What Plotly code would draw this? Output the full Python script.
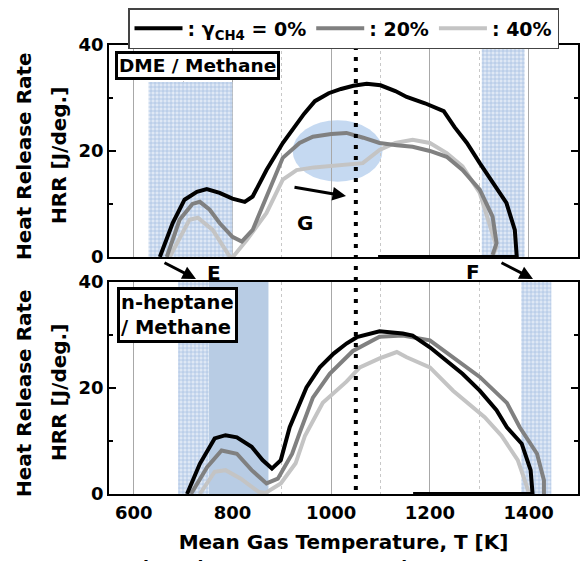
import plotly.graph_objects as go

# ---------------- data ----------------
# DME / Methane panel (top)
top_T_0 = [653, 679, 703, 728, 748, 774, 800, 825, 841, 869, 902, 922, 945, 967, 995, 1020, 1045, 1072, 1100, 1130, 1153, 1190, 1228, 1250, 1275, 1301, 1330, 1355, 1372, 1376, 1376, 1300, 1200, 1095]
top_H_0 = [0, 6.4, 10.8, 12.3, 12.8, 12.1, 11.0, 10.4, 11.4, 16.4, 21.5, 24.0, 27.0, 29.4, 30.9, 31.7, 32.3, 32.7, 32.4, 31.3, 30.2, 29.0, 27.5, 24.5, 21.5, 17.7, 13.5, 10.2, 5.1, 1.0, 0, 0, 0, 0]
top_T_20 = [667, 693, 719, 734, 754, 774, 800, 819, 841, 869, 902, 936, 963, 1000, 1031, 1065, 1098, 1133, 1165, 1200, 1234, 1266, 1301, 1327, 1335, 1327]
top_H_20 = [0, 7.0, 10.0, 10.4, 8.9, 6.4, 3.8, 2.9, 5.1, 11.4, 18.7, 21.5, 22.7, 23.2, 23.4, 22.5, 21.5, 21.1, 20.8, 20.0, 18.9, 16.4, 12.7, 7.6, 2.6, 0.4]
top_T_40 = [673, 713, 730, 760, 795, 801, 829, 869, 902, 930, 965, 997, 1030, 1064, 1098, 1130, 1165, 1200, 1234, 1266, 1301, 1321, 1335, 1327]
top_H_40 = [0, 7.0, 7.4, 5.1, 0, 0, 3.2, 8.3, 14.6, 16.4, 16.9, 17.1, 17.4, 17.7, 20.2, 21.5, 22.1, 21.5, 19.6, 17.1, 12.1, 6.4, 1.9, 0.2]

# n-heptane / Methane panel (bottom)
bot_T_0 = [708, 734, 764, 786, 809, 839, 861, 880, 898, 916, 950, 977, 1005, 1031, 1052, 1098, 1145, 1165, 1200, 1234, 1266, 1301, 1335, 1356, 1386, 1404, 1408, 1408, 1300, 1166]
bot_H_0 = [0, 5.7, 10.5, 11.1, 10.7, 8.9, 6.4, 4.8, 6.4, 12.6, 20.1, 23.9, 26.5, 28.4, 29.6, 30.7, 30.3, 29.9, 27.7, 25.2, 22.7, 19.5, 15.8, 12.6, 9.5, 4.5, 0.7, 0, 0, 0]
bot_T_20 = [716, 749, 778, 809, 839, 869, 892, 921, 936, 963, 997, 1044, 1098, 1145, 1200, 1247, 1301, 1356, 1382, 1417, 1431, 1431]
bot_H_20 = [0, 5.1, 8.2, 7.6, 4.5, 2.0, 2.9, 7.6, 11.5, 18.2, 22.7, 27.0, 29.7, 29.9, 29.0, 25.8, 22.1, 17.2, 12.6, 7.6, 2.6, 0]
bot_T_40 = [734, 764, 786, 817, 853, 867, 898, 928, 947, 983, 1031, 1058, 1098, 1133, 1153, 1200, 1247, 1311, 1345, 1378, 1392, 1400]
bot_H_40 = [0, 4.2, 4.5, 2.9, 0.4, 0.2, 2.0, 5.8, 11.0, 17.2, 21.2, 23.9, 25.6, 26.8, 25.8, 23.9, 19.5, 14.5, 11.0, 6.4, 2.6, 0.3]

series_names = [": \u03b3<sub>CH4</sub> = 0%", ": 20%", ": 40%"]
series_colors = ["#000000", "#808080", "#c4c4c4"]

# highlighted regions: (T_start, T_end, HRR_low, HRR_high)
top_regions = [(630, 680, 0, 33), (680, 800, 0, 33), (1305, 1392, 0, 39.6)]
bot_regions_pattern = [(690, 752, 0, 40), (1385, 1446, 0, 40)]
bot_regions_solid = [(752, 873, 0, 40)]
ellipse_G = (922, 1104, 14.2, 25.8)
marker_T = 1050

x_ticks = [600, 800, 1000, 1200, 1400]
y_ticks = [0, 20, 40]

# ---------------- figure ----------------
W, H = 581, 561
ML, MR, MT, MB = 109, 3, 45, 67
PW, PH = W - ML - MR, H - MT - MB


def px(x):
    return (x - ML) / PW


def py(y):
    return (H - MB - y) / PH


FONT = "DejaVu Sans, Verdana, sans-serif"
fig = go.Figure()

pat = dict(shape="+", fgcolor="#6f97d0", bgcolor="#dfe8f5", size=4, solidity=0.35)


def rect_trace(r, xa, ya, pattern=True):
    x0, x1, y0, y1 = r
    kw = dict(x=[x0, x1, x1, x0, x0], y=[y0, y0, y1, y1, y0], mode="lines",
              line=dict(width=0), fill="toself", hoverinfo="skip",
              showlegend=False, xaxis=xa, yaxis=ya)
    if pattern:
        kw["fillpattern"] = pat
        kw["fillcolor"] = "#dfe8f5"
    else:
        kw["fillcolor"] = "#b8cce4"
    return go.Scatter(**kw)


for r in top_regions:
    fig.add_trace(rect_trace(r, "x2", "y2"))
for r in bot_regions_solid:
    fig.add_trace(rect_trace(r, "x", "y", pattern=False))
for r in bot_regions_pattern:
    fig.add_trace(rect_trace(r, "x", "y"))

fig.add_shape(type="circle", xref="x2", yref="y2", x0=ellipse_G[0], x1=ellipse_G[1],
              y0=ellipse_G[2], y1=ellipse_G[3], fillcolor="rgba(150,185,230,0.55)",
              line=dict(width=0), layer="below")

top_data = [(top_T_0, top_H_0), (top_T_20, top_H_20), (top_T_40, top_H_40)]
bot_data = [(bot_T_0, bot_H_0), (bot_T_20, bot_H_20), (bot_T_40, bot_H_40)]

# draw lighter curves first so black is on top
for i in [2, 1, 0]:
    T, Hh = bot_data[i]
    fig.add_trace(go.Scatter(x=T, y=Hh, mode="lines", line=dict(color=series_colors[i], width=4),
                             showlegend=False, xaxis="x", yaxis="y"))
for i in [2, 1, 0]:
    T, Hh = top_data[i]
    fig.add_trace(go.Scatter(x=T, y=Hh, mode="lines", name=series_names[i],
                             line=dict(color=series_colors[i], width=4),
                             showlegend=True, legendrank=i, xaxis="x2", yaxis="y2"))

axis_common = dict(showline=True, linecolor="black", linewidth=1.5, mirror=True, zeroline=False,
                   automargin=False)
xcommon = dict(range=[550, 1500], tickvals=x_ticks, showgrid=True, gridcolor="#a8a8a8", gridwidth=1,
               minor=dict(dtick=100, tick0=500, showgrid=True, gridcolor="#c8c8c8", griddash="dot", gridwidth=1),
               ticks="", **axis_common)
ycommon = dict(range=[0, 40], tickvals=y_ticks, showgrid=False, ticks="inside", ticklen=7, tickwidth=1.5,
               tickcolor="black", minor=dict(dtick=10, ticks="inside", ticklen=4, tickcolor="black", tickwidth=1.5),
               **{**axis_common, "mirror": "ticks"})
tickfont = dict(family=FONT, size=18, color="black", weight="bold")
titlefont = dict(family=FONT, size=20, color="black", weight="bold")

fig.update_layout(
    width=W, height=H, margin=dict(l=ML, r=MR, t=MT, b=MB, autoexpand=False),
    paper_bgcolor="white", plot_bgcolor="white",
    font=dict(family=FONT, color="black"),
    xaxis=dict(domain=[0, 1], anchor="y", tickfont=tickfont, ticklabelstandoff=2,
               title=dict(text="Mean Gas Temperature, T [K]", font=titlefont, standoff=13), **xcommon),
    yaxis=dict(domain=[0, 0.472], anchor="x", tickfont=tickfont, **ycommon),
    xaxis2=dict(domain=[0, 1], anchor="y2", matches="x", showticklabels=False, **xcommon),
    yaxis2=dict(domain=[0.528, 1], anchor="x2", tickfont=tickfont, **ycommon),
    legend=dict(orientation="h", xref="container", yref="container", x=128 / W, y=1 - 8 / H,
                xanchor="left", yanchor="top",
                bordercolor="#444", borderwidth=1.5, bgcolor="white", itemwidth=48,
                font=dict(family=FONT, size=19, color="black", weight="bold"),
                traceorder="normal", tracegroupgap=0, itemclick=False),
    showlegend=True,
)

# y-axis titles (two lines each)
for yc in [py(156), py(393)]:
    fig.add_annotation(xref="paper", yref="paper", x=px(24), y=yc, text="Heat Release Rate",
                       xanchor="center", yanchor="middle",
                       textangle=-90, showarrow=False, font=titlefont)
    fig.add_annotation(xref="paper", yref="paper", x=px(59), y=yc, text="HRR [J/deg.]",
                       xanchor="center", yanchor="middle",
                       textangle=-90, showarrow=False, font=titlefont)

# dotted vertical marker line through both panels
fig.add_shape(type="line", xref="x", yref="paper", x0=marker_T, x1=marker_T, y0=py(490), y1=py(47),
              line=dict(color="black", width=4, dash="4px,7px"), layer="above")

# panel labels
fig.add_annotation(xref="paper", yref="paper", x=px(115), y=py(51), xanchor="left", yanchor="top",
                   text="DME / Methane", showarrow=False, bgcolor="white", bordercolor="black",
                   borderwidth=3, borderpad=1, font=dict(family=FONT, size=18.5, color="black", weight="bold"))
fig.add_annotation(xref="paper", yref="paper", x=px(117), y=py(287), xanchor="left", yanchor="top",
                   text="n-heptane<br>/ Methane", showarrow=False, bgcolor="white", bordercolor="black",
                   borderwidth=3, borderpad=1, align="left",
                   font=dict(family=FONT, size=19.5, color="black", weight="bold"))

# arrows + letters
lab_font = dict(family=FONT, size=20, color="black", weight="bold")
for (x0, y0, x1, y1) in [(163, 262, 196, 279), (500, 262, 533, 279), (293, 187, 346, 196)]:
    fig.add_annotation(xref="paper", yref="paper", x=px(x1), y=py(y1),
                       axref="pixel", ayref="pixel", ax=x0 - x1, ay=y0 - y1,
                       showarrow=True, arrowhead=2, arrowsize=0.9, arrowwidth=3,
                       arrowcolor="black", text="")
for (t, x, y) in [("E", 205, 273), ("F", 482, 272), ("G", 305, 223)]:
    fig.add_annotation(xref="paper", yref="paper", x=px(x), y=py(y), text=t, showarrow=False,
                       font=lab_font)

# clipped figure caption below the chart (the reference shows only its top)
fig.add_annotation(xref="paper", yref="paper", x=px(64), y=py(554.5), xanchor="left", yanchor="top",
                   text="Fig. 6 Relation between mean HRR and temperature", showarrow=False,
                   font=dict(family="DejaVu Serif, Liberation Serif, serif", size=17, color="black"))

# the page's default 8px body margin would shift the chart; remove it
fig.write_html("out.html", config={"displayModeBar": False},
               post_script="document.body.style.margin='0px';")
